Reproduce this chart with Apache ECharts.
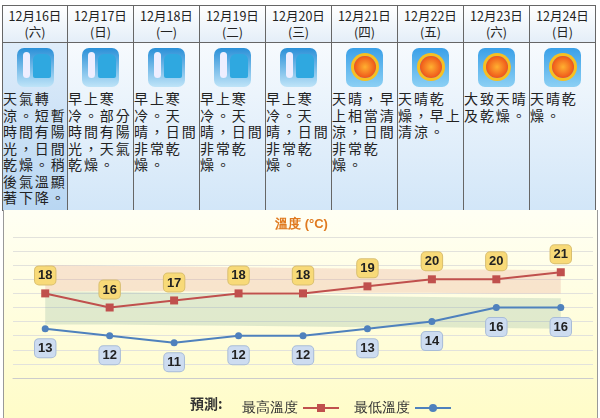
<!DOCTYPE html>
<html><head><meta charset="utf-8">
<script src="https://cdn.jsdelivr.net/npm/echarts@6/dist/echarts.min.js"></script>
<style>
body{margin:0;width:600px;height:418px;overflow:hidden;background:#fff;font-family:"Noto Sans CJK TC",sans-serif;}
#top{position:absolute;left:2px;top:5px;width:594px;height:205px;display:flex;border-top:1px solid #666;}
.col{width:66px;border-right:1px solid #666;box-sizing:border-box;background:linear-gradient(#fff,#d2e6f8);overflow:hidden;}
.col:first-child{border-left:1px solid #666;background:linear-gradient(#e8f2fc,#b8d6f2);}
.hd{height:37px;border-bottom:1px solid #666;text-align:center;font-size:12.5px;line-height:16px;color:#222;padding-top:2px;box-sizing:border-box;background:linear-gradient(#fff,#e4eef8);}
.ic{width:37px;height:39px;margin:5px auto 3px;border-radius:7px;position:relative;overflow:hidden;}
.cold{background:linear-gradient(#2a90d8,#bfe4f8);}
.sun{background:linear-gradient(#3aa0e8,#8cd0f4);}
.cold:after{content:"";position:absolute;left:6px;top:4px;width:7px;height:26px;border-radius:4px;background:#eef;}
.cold:before{content:"";position:absolute;left:16px;top:6px;width:18px;height:24px;border-radius:6px 6px 2px 2px;background:#2fa8e0;}
.sun:after{content:"";position:absolute;left:8px;top:8px;width:22px;height:22px;border-radius:50%;background:radial-gradient(#ffb030,#e83010);box-shadow:0 0 0 3px #f8c020;}
.tx{font-size:14px;line-height:16.5px;letter-spacing:1.9px;padding-left:0;word-break:break-all;color:#222;}
#wrap{position:absolute;left:3px;top:210px;width:595px;height:208px;border-left:1px solid #999;border-right:1px solid #999;box-sizing:border-box;background:linear-gradient(#fffff4,#fffcc8);}
#chart{position:absolute;left:0;top:0;width:595px;height:208px;}
</style></head><body>
<div id="top"></div>
<div id="wrap"><div id="chart"></div></div>
<script>
const dates = ['12月16日','12月17日','12月18日','12月19日','12月20日','12月21日','12月22日','12月23日','12月24日'];
const weekdays = ['(六)','(日)','(一)','(二)','(三)','(四)','(五)','(六)','(日)'];
const icons = ['cold','cold','cold','cold','cold','sun','sun','sun','sun'];
const descs = [
  '天氣轉涼。短暫時間有陽光，日間乾燥。稍後氣溫顯著下降。',
  '早上寒冷。部分時間有陽光，天氣乾燥。',
  '早上寒冷。天晴，日間非常乾燥。',
  '早上寒冷。天晴，日間非常乾燥。',
  '早上寒冷。天晴，日間非常乾燥。',
  '天晴，早上相當清涼，日間非常乾燥。',
  '天晴乾燥，早上清涼。',
  '大致天晴及乾燥。',
  '天晴乾燥。'
];
const maxTemps = [18,16,17,18,18,19,20,20,21];
const minTemps = [13,12,11,12,12,13,14,16,16];
const hiBandLow = [18.3,18.3,18.3,18.2,18.2,18.1,18.1,18,18];
const hiBandTop = [22,21.9,21.8,21.7,21.6,21.5,21.4,21.4,21.3];
const loBandLow = [13.6,13.6,13.5,13.4,13.3,13.2,13.2,13.1,13];
const loBandTop = [18.3,18.2,18.1,17.9,17.8,17.6,17.5,17.4,17.3];

document.getElementById('top').innerHTML = dates.map((d, i) =>
  `<div class="col"><div class="hd">${d}<br>${weekdays[i]}</div><div class="ic ${icons[i]}"></div><div class="tx">${descs[i]}</div></div>`
).join('');

const myChart = echarts.init(document.getElementById('chart'));
const diff = (a, b) => a.map((v, i) => +(v - b[i]).toFixed(2));
const band = (stack, data, color) => ({
  type: 'line', stack: stack, data: data, symbol: 'none', silent: true,
  lineStyle: { width: 0 }, areaStyle: color ? { color: color, origin: 'start' } : { opacity: 0 }
});
const box = (bg, bd) => ({
  show: true, fontSize: 13, fontWeight: 'bold', color: '#222', fontFamily: 'Liberation Sans',
  backgroundColor: bg, borderColor: bd, borderWidth: 1, borderRadius: 4, padding: [3, 3, 2, 3]
});

myChart.setOption({
  animation: false,
  title: { text: '溫度 (°C)', left: 'center', top: 3,
    textStyle: { color: '#e07a20', fontSize: 13, fontWeight: 'bold' } },
  grid: { left: 9, right: 6, top: 27, bottom: 40 },
  legend: {
    left: 233, top: 186, align: 'right', itemWidth: 36, itemHeight: 10, itemGap: 14,
    textStyle: { fontSize: 14, color: '#333' },
    data: ['最高溫度', '最低溫度']
  },
  graphic: [{ type: 'text', left: 186, top: 187,
    style: { text: '預測:', font: 'bold 14px "Noto Sans CJK TC"', fill: '#333' } }],
  xAxis: {
    type: 'category', data: dates,
    axisLine: { lineStyle: { color: '#ccc' } },
    axisTick: { length: 5, lineStyle: { color: '#ccc' } },
    axisLabel: { show: false }
  },
  yAxis: {
    type: 'value', min: 6, max: 26, interval: 2,
    axisLabel: { show: false }, axisLine: { show: false },
    splitLine: { lineStyle: { color: '#e2e2dc' } }
  },
  series: [
    band('hi', hiBandLow), band('hi', diff(hiBandTop, hiBandLow), 'rgba(228,150,130,0.35)'),
    band('lo', loBandLow), band('lo', diff(loBandTop, loBandLow), 'rgba(110,160,140,0.3)'),
    {
      name: '最高溫度', type: 'line', data: maxTemps, symbol: 'rect', symbolSize: 8,
      itemStyle: { color: '#c0504d' }, lineStyle: { width: 2, color: '#c0504d' },
      label: Object.assign(box('#f8da78', '#d9bf70'), { position: 'top', distance: 5 })
    },
    {
      name: '最低溫度', type: 'line', data: minTemps, symbol: 'circle', symbolSize: 7,
      itemStyle: { color: '#4f81bd' }, lineStyle: { width: 2, color: '#4f81bd' },
      label: Object.assign(box('#cddcf0', '#a8bcd8'), { position: 'bottom', distance: 7 })
    }
  ]
});
</script>
</body></html>
